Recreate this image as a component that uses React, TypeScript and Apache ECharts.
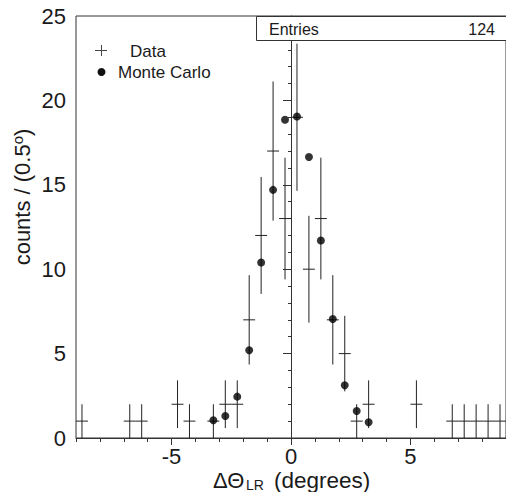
import React, { useEffect, useRef } from "react";
import * as echarts from "echarts";

// Data histogram (bin centres, 0.5 degree bins) and counts
const dataX = [-8.75, -6.75, -6.25, -4.75, -4.25, -3.25, -2.75, -2.25, -1.75, -1.25, -0.75, -0.25, 0.25, 0.75, 1.25, 1.75, 2.25, 2.75, 3.25, 5.25, 6.75, 7.25, 7.75, 8.25, 8.75];
const dataCounts = [1, 1, 1, 2, 1, 1, 2, 2, 7, 12, 17, 13, 19, 10, 13, 7, 5, 1, 2, 2, 1, 1, 1, 1, 1];

// Monte Carlo expectation
const mcX = [-3.25, -2.75, -2.25, -1.75, -1.25, -0.75, -0.25, 0.25, 0.75, 1.25, 1.75, 2.25, 2.75, 3.25];
const mcValues = [1.05, 1.3, 2.45, 5.2, 10.4, 14.7, 18.85, 19.05, 16.65, 11.7, 7.05, 3.12, 1.6, 0.93];

const xMajorTicks = [-5, 0, 5];
const entries = 124;
const binHalfWidth = 0.25;

const FONT = "'Liberation Sans', Arial, Helvetica, sans-serif";
const INK = "#1a1a1a";
const AXIS = "#333";

export default function App() {
  const ref = useRef<HTMLDivElement>(null);

  useEffect(() => {
    if (!ref.current) return;
    const chart = echarts.init(ref.current, undefined, { renderer: "svg" });

    const option: any = {
      animation: false,
      backgroundColor: "#fff",
      grid: {
        left: 76,
        right: 0,
        top: 16,
        bottom: 54,
        outerBoundsMode: "none",
        containLabel: false,
        show: true,
        borderColor: AXIS,
        borderWidth: 1,
        backgroundColor: "transparent",
      },
      xAxis: [
        {
          type: "value",
          min: -9,
          max: 9,
          interval: 1,
          axisLine: { show: true, lineStyle: { color: AXIS, width: 1 } },
          axisTick: { show: true, length: 4, lineStyle: { color: AXIS } },
          splitLine: { show: false },
          axisLabel: {
            interval: 0,
            margin: 8,
            fontSize: 22,
            lineHeight: 20,
            color: INK,
            fontFamily: FONT,
            formatter: (v: number) => (xMajorTicks.indexOf(v) >= 0 ? String(v) : ""),
          },
        },
        {
          type: "value",
          min: -9,
          max: 9,
          position: "bottom",
          axisLine: { show: false },
          axisTick: { show: true, length: 7, customValues: xMajorTicks, lineStyle: { color: AXIS } },
          axisLabel: { show: false },
          splitLine: { show: false },
        },
      ],
      yAxis: {
        type: "value",
        min: 0,
        max: 25,
        interval: 5,
        axisLine: { show: true, lineStyle: { color: AXIS, width: 1 } },
        axisTick: { show: true, length: 8, lineStyle: { color: AXIS } },
        minorTick: { show: true, splitNumber: 5, length: 3, lineStyle: { color: AXIS } },
        splitLine: { show: false },
        minorSplitLine: { show: false },
        axisLabel: { margin: 10, fontSize: 22, color: INK, fontFamily: FONT },
      },
      series: [
        {
          name: "Data",
          type: "custom",
          xAxisIndex: 0,
          data: dataX.map((x, i) => [x, dataCounts[i]]),
          encode: { x: 0, y: 1 },
          renderItem: (params: any, api: any) => {
            const x = api.value(0);
            const y = api.value(1);
            const e = Math.sqrt(y);
            const c = api.coord([x, y]);
            const lo = api.coord([x, Math.max(0, y - e)]);
            const hi = api.coord([x, y + e]);
            const l = api.coord([x - binHalfWidth, y]);
            const r = api.coord([x + binHalfWidth, y]);
            const style = { stroke: "#222", lineWidth: 1 };
            return {
              type: "group",
              children: [
                { type: "line", shape: { x1: l[0], y1: c[1], x2: r[0], y2: c[1] }, style },
                { type: "line", shape: { x1: c[0], y1: lo[1], x2: c[0], y2: hi[1] }, style },
              ],
            };
          },
          z: 2,
        },
        {
          name: "Monte Carlo",
          type: "scatter",
          xAxisIndex: 0,
          data: mcX.map((x, i) => [x, mcValues[i]]),
          symbol: "circle",
          symbolSize: 8,
          itemStyle: { color: "#000" },
          z: 3,
        },
      ],
      graphic: [
        // stats box
        {
          type: "rect",
          shape: { x: 256.5, y: 16.5, width: 260, height: 24 },
          style: { fill: "#fff", stroke: AXIS, lineWidth: 1 },
          z: 10,
        },
        {
          type: "text",
          x: 269,
          y: 29,
          style: { text: "Entries", fontSize: 16, fontFamily: FONT, fill: INK, textVerticalAlign: "middle" },
          z: 11,
        },
        {
          type: "text",
          x: 495,
          y: 29,
          style: { text: String(entries), fontSize: 16, fontFamily: FONT, fill: INK, textAlign: "right", textVerticalAlign: "middle" },
          z: 11,
        },
        // legend
        { type: "line", shape: { x1: 95, y1: 50.5, x2: 107, y2: 50.5 }, style: { stroke: "#444", lineWidth: 1 }, z: 11 },
        { type: "line", shape: { x1: 101.5, y1: 45, x2: 101.5, y2: 56 }, style: { stroke: "#444", lineWidth: 1 }, z: 11 },
        {
          type: "text",
          x: 130,
          y: 51,
          style: { text: "Data", fontSize: 17, fontFamily: FONT, fill: INK, textVerticalAlign: "middle" },
          z: 11,
        },
        { type: "circle", shape: { cx: 101.5, cy: 72, r: 4 }, style: { fill: "#111" }, z: 11 },
        {
          type: "text",
          x: 118,
          y: 72,
          style: { text: "Monte Carlo", fontSize: 17, fontFamily: FONT, fill: INK, textVerticalAlign: "middle" },
          z: 11,
        },
        // x axis title
        {
          type: "text",
          x: 213,
          y: 491,
          style: { text: "ΔΘ", fontSize: 22, lineHeight: 22, fontFamily: FONT, fill: INK, textVerticalAlign: "bottom" },
          z: 11,
        },
        {
          type: "text",
          x: 246,
          y: 492,
          style: { text: "LR", fontSize: 14, lineHeight: 14, fontFamily: FONT, fill: INK, textVerticalAlign: "bottom" },
          z: 11,
        },
        {
          type: "text",
          x: 274,
          y: 491,
          style: { text: "(degrees)", fontSize: 22.5, lineHeight: 22, fontFamily: FONT, fill: INK, textVerticalAlign: "bottom" },
          z: 11,
        },
        // y axis title
        {
          type: "text",
          x: 22,
          y: 197,
          rotation: Math.PI / 2,
          style: {
            text: "{a|counts / (0.5}{sup|o}{a|)}",
            textAlign: "center",
            textVerticalAlign: "middle",
            rich: {
              a: { fontSize: 22, fontFamily: FONT, fill: INK },
              sup: { fontSize: 15, fontFamily: FONT, fill: INK, verticalAlign: "top", padding: [0, 0, 10, 0] },
            },
          },
          z: 11,
        },
      ],
    };

    chart.setOption(option);
    return () => chart.dispose();
  }, []);

  return (
    <div
      ref={ref}
      style={{ position: "absolute", left: 0, top: 0, width: 506, height: 492, background: "#fff" }}
    />
  );
}
